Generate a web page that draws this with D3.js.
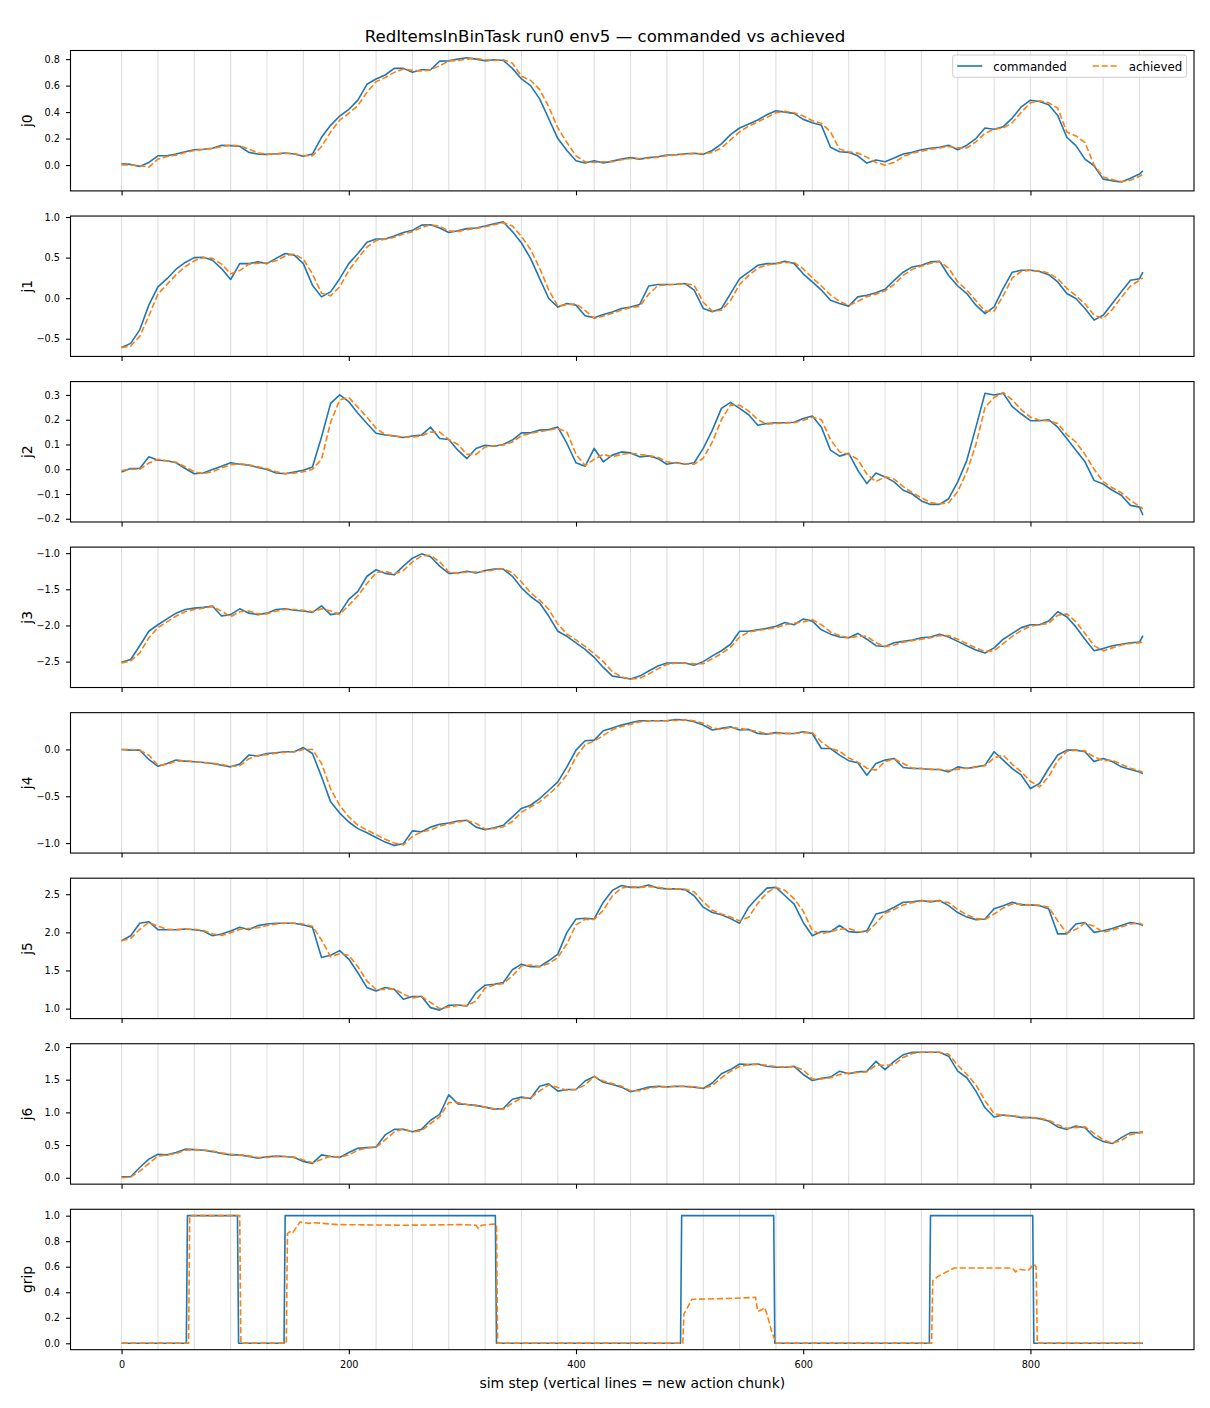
<!DOCTYPE html>
<html>
<head>
<meta charset="utf-8">
<script src="https://cdn.jsdelivr.net/npm/d3@7"></script>
<style>
  body { margin: 0; background: #fff; }
  text { font-family: "DejaVu Sans", sans-serif; fill: #000; }
</style>
</head>
<body>
<div id="chart"></div>
<script>
// sample grid: every 8 sim steps, plus the last step
var steps = d3.range(0, 897, 8).concat([899]);
// new action chunk every 32 steps
var chunkStarts = d3.range(0, 900, 32);

var jointNames = ["j0", "j1", "j2", "j3", "j4", "j5", "j6"];
var xTicks = [0, 200, 400, 600, 800];

var j0Cmd = [0.01, 0.005, -0.01, 0.02, 0.07, 0.07, 0.083, 0.10,
  0.116, 0.12, 0.127, 0.15, 0.147, 0.142, 0.096, 0.083,
  0.081, 0.085, 0.091, 0.083, 0.066, 0.083, 0.21, 0.30,
  0.37, 0.42, 0.49, 0.61, 0.65, 0.68, 0.73, 0.73,
  0.70, 0.72, 0.72, 0.785, 0.787, 0.80, 0.81, 0.80,
  0.787, 0.795, 0.79, 0.73, 0.65, 0.60, 0.50, 0.35,
  0.20, 0.11, 0.033, 0.015, 0.033, 0.015, 0.03, 0.045,
  0.056, 0.045, 0.056, 0.063, 0.076, 0.078, 0.086, 0.089,
  0.081, 0.11, 0.16, 0.23, 0.28, 0.31, 0.34, 0.38,
  0.41, 0.40, 0.39, 0.345, 0.32, 0.30, 0.135, 0.10,
  0.096, 0.07, 0.015, 0.038, 0.025, 0.053, 0.083, 0.096,
  0.116, 0.127, 0.134, 0.15, 0.116, 0.15, 0.20, 0.28,
  0.27, 0.29, 0.355, 0.44, 0.49, 0.48, 0.455, 0.375,
  0.21, 0.147, 0.045, -0.005, -0.106, -0.119, -0.127, -0.10,
  -0.068, -0.043];
var j0Ach = [0.0, 0.0, -0.005, -0.015, 0.045, 0.065, 0.075, 0.095,
  0.11, 0.118, 0.125, 0.14, 0.15, 0.145, 0.12, 0.09,
  0.083, 0.083, 0.088, 0.087, 0.072, 0.07, 0.14, 0.25,
  0.34, 0.39, 0.45, 0.55, 0.63, 0.66, 0.70, 0.725,
  0.715, 0.71, 0.72, 0.75, 0.785, 0.79, 0.80, 0.805,
  0.795, 0.79, 0.795, 0.77, 0.67, 0.64, 0.57, 0.44,
  0.28, 0.17, 0.07, 0.025, 0.02, 0.025, 0.025, 0.04,
  0.05, 0.05, 0.052, 0.06, 0.07, 0.077, 0.082, 0.087,
  0.086, 0.095, 0.13, 0.19, 0.25, 0.295, 0.325, 0.36,
  0.395, 0.405, 0.395, 0.37, 0.335, 0.315, 0.25, 0.12,
  0.10, 0.09, 0.06, 0.02, 0.0, 0.02, 0.065, 0.09,
  0.105, 0.12, 0.13, 0.14, 0.13, 0.13, 0.175, 0.24,
  0.27, 0.28, 0.32, 0.40, 0.47, 0.485, 0.47, 0.43,
  0.25, 0.22, 0.17, 0.0, -0.09, -0.11, -0.125, -0.115,
  -0.085, -0.07];

var j1Cmd = [-0.607, -0.557, -0.39, -0.086, 0.14, 0.24, 0.357, 0.44,
  0.50, 0.504, 0.467, 0.365, 0.23, 0.426, 0.426, 0.447,
  0.426, 0.49, 0.55, 0.53, 0.426, 0.16, 0.016, 0.078,
  0.24, 0.426, 0.55, 0.69, 0.73, 0.73, 0.766, 0.81,
  0.836, 0.90, 0.905, 0.865, 0.81, 0.83, 0.857, 0.865,
  0.89, 0.918, 0.94, 0.82, 0.68, 0.49, 0.24, -0.004,
  -0.11, -0.066, -0.086, -0.217, -0.24, -0.20, -0.17, -0.127,
  -0.11, -0.078, 0.15, 0.168, 0.168, 0.172, 0.18, 0.098,
  -0.127, -0.168, -0.127, 0.057, 0.24, 0.32, 0.405, 0.426,
  0.426, 0.455, 0.426, 0.30, 0.20, 0.10, -0.025, -0.066,
  -0.098, 0.016, 0.037, 0.066, 0.11, 0.22, 0.32, 0.385,
  0.405, 0.447, 0.455, 0.28, 0.15, 0.057, -0.086, -0.19,
  -0.107, 0.12, 0.32, 0.344, 0.344, 0.33, 0.29, 0.20,
  0.057, -0.004, -0.127, -0.27, -0.21, -0.066, 0.078, 0.22,
  0.24, 0.32];
var j1Ach = [-0.61, -0.59, -0.47, -0.22, 0.05, 0.17, 0.29, 0.39,
  0.46, 0.50, 0.49, 0.42, 0.30, 0.34, 0.42, 0.43,
  0.435, 0.46, 0.52, 0.545, 0.48, 0.30, 0.06, 0.03,
  0.14, 0.34, 0.49, 0.63, 0.71, 0.725, 0.75, 0.79,
  0.82, 0.87, 0.905, 0.885, 0.83, 0.82, 0.845, 0.86,
  0.88, 0.905, 0.93, 0.89, 0.76, 0.60, 0.37, 0.10,
  -0.10, -0.08, -0.07, -0.15, -0.25, -0.22, -0.185, -0.145,
  -0.115, -0.10, 0.05, 0.155, 0.165, 0.17, 0.178, 0.16,
  -0.05, -0.16, -0.15, -0.03, 0.17, 0.28, 0.37, 0.41,
  0.425, 0.44, 0.44, 0.36, 0.25, 0.15, 0.04, -0.04,
  -0.09, -0.04, 0.02, 0.05, 0.09, 0.17, 0.28, 0.355,
  0.395, 0.43, 0.45, 0.37, 0.20, 0.10, -0.03, -0.16,
  -0.16, 0.03, 0.25, 0.33, 0.345, 0.335, 0.31, 0.24,
  0.12, 0.03, -0.07, -0.21, -0.25, -0.14, 0.01, 0.15,
  0.22, 0.25];

var j2Cmd = [-0.011, 0.003, 0.003, 0.05, 0.036, 0.034, 0.026, 0.003,
  -0.018, -0.015, -0.001, 0.012, 0.026, 0.02, 0.016, 0.007,
  -0.001, -0.015, -0.018, -0.011, -0.004, 0.009, 0.13, 0.266,
  0.30, 0.273, 0.226, 0.185, 0.145, 0.138, 0.134, 0.128,
  0.134, 0.138, 0.17, 0.124, 0.12, 0.077, 0.043, 0.084,
  0.097, 0.093, 0.10, 0.118, 0.147, 0.147, 0.158, 0.16,
  0.17, 0.104, 0.026, 0.012, 0.084, 0.03, 0.057, 0.07,
  0.066, 0.05, 0.054, 0.043, 0.02, 0.027, 0.02, 0.026,
  0.084, 0.158, 0.246, 0.27, 0.246, 0.22, 0.178, 0.185,
  0.188, 0.188, 0.19, 0.205, 0.215, 0.17, 0.077, 0.053,
  0.064, -0.004, -0.058, -0.015, -0.031, -0.051, -0.085, -0.10,
  -0.128, -0.142, -0.142, -0.119, -0.051, 0.036, 0.17, 0.307,
  0.30, 0.307, 0.253, 0.223, 0.196, 0.196, 0.20, 0.17,
  0.124, 0.077, 0.03, -0.045, -0.06, -0.085, -0.105, -0.146,
  -0.153, -0.186];
var j2Ach = [-0.005, 0.0, 0.0, 0.025, 0.04, 0.033, 0.028, 0.01,
  -0.01, -0.018, -0.01, 0.005, 0.018, 0.022, 0.018, 0.01,
  0.002, -0.01, -0.017, -0.016, -0.01, 0.0, 0.04, 0.19,
  0.28, 0.29, 0.25, 0.21, 0.165, 0.14, 0.135, 0.13,
  0.13, 0.135, 0.15, 0.15, 0.12, 0.10, 0.06, 0.06,
  0.09, 0.095, 0.098, 0.11, 0.135, 0.145, 0.152, 0.158,
  0.165, 0.15, 0.06, 0.015, 0.04, 0.06, 0.05, 0.06,
  0.065, 0.06, 0.055, 0.048, 0.03, 0.025, 0.022, 0.02,
  0.045, 0.11, 0.20, 0.26, 0.258, 0.235, 0.20, 0.182,
  0.185, 0.187, 0.188, 0.198, 0.21, 0.20, 0.12, 0.07,
  0.06, 0.04, -0.02, -0.05, -0.03, -0.04, -0.07, -0.095,
  -0.115, -0.135, -0.14, -0.135, -0.09, -0.01, 0.10, 0.25,
  0.29, 0.31, 0.28, 0.24, 0.21, 0.198, 0.195, 0.185,
  0.14, 0.11, 0.06, 0.0, -0.05, -0.075, -0.095, -0.125,
  -0.15, -0.16];

var j3Cmd = [-2.51, -2.47, -2.28, -2.08, -1.99, -1.91, -1.83, -1.78,
  -1.76, -1.75, -1.73, -1.87, -1.85, -1.77, -1.83, -1.85,
  -1.83, -1.78, -1.77, -1.79, -1.80, -1.82, -1.73, -1.85,
  -1.83, -1.64, -1.53, -1.32, -1.23, -1.28, -1.30, -1.18,
  -1.07, -1.01, -1.05, -1.18, -1.28, -1.275, -1.25, -1.275,
  -1.24, -1.22, -1.22, -1.32, -1.48, -1.60, -1.69, -1.87,
  -2.08, -2.15, -2.24, -2.33, -2.44, -2.58, -2.70, -2.72,
  -2.74, -2.70, -2.63, -2.56, -2.52, -2.52, -2.52, -2.55,
  -2.50, -2.42, -2.35, -2.26, -2.08, -2.08, -2.06, -2.04,
  -2.01, -1.96, -1.99, -1.91, -1.94, -2.06, -2.12, -2.16,
  -2.17, -2.11, -2.19, -2.28, -2.29, -2.24, -2.22, -2.20,
  -2.17, -2.16, -2.12, -2.16, -2.22, -2.28, -2.34, -2.38,
  -2.31, -2.19, -2.11, -2.03, -1.99, -1.99, -1.94, -1.81,
  -1.88, -2.02, -2.19, -2.35, -2.32, -2.28, -2.26, -2.24,
  -2.23, -2.14];
var j3Ach = [-2.52, -2.49, -2.38, -2.17, -2.03, -1.95, -1.87, -1.81,
  -1.78, -1.76, -1.74, -1.80, -1.88, -1.81, -1.80, -1.84,
  -1.84, -1.80, -1.78, -1.78, -1.79, -1.81, -1.77, -1.80,
  -1.85, -1.72, -1.59, -1.42, -1.27, -1.25, -1.29, -1.24,
  -1.12, -1.04, -1.03, -1.12, -1.26, -1.28, -1.26, -1.26,
  -1.255, -1.23, -1.22, -1.27, -1.40, -1.55, -1.65, -1.78,
  -1.98, -2.12, -2.20, -2.29, -2.39, -2.50, -2.64, -2.71,
  -2.74, -2.73, -2.67, -2.60, -2.54, -2.52, -2.52, -2.53,
  -2.53, -2.46, -2.39, -2.30, -2.16, -2.09, -2.07, -2.05,
  -2.03, -1.99, -1.97, -1.95, -1.92, -1.99, -2.09, -2.14,
  -2.17, -2.15, -2.15, -2.24, -2.29, -2.27, -2.23, -2.21,
  -2.19, -2.17, -2.14, -2.14, -2.19, -2.25, -2.31, -2.36,
  -2.35, -2.25, -2.15, -2.07, -2.01, -1.99, -1.97, -1.86,
  -1.84, -1.95, -2.11, -2.28, -2.35, -2.31, -2.27, -2.25,
  -2.24, -2.23];

var j4Cmd = [0.0, -0.007, -0.007, -0.107, -0.18, -0.15, -0.114, -0.125,
  -0.132, -0.14, -0.15, -0.168, -0.186, -0.157, -0.06, -0.07,
  -0.043, -0.036, -0.025, -0.025, 0.02, -0.043, -0.29, -0.56,
  -0.68, -0.775, -0.846, -0.89, -0.94, -0.99, -1.025, -1.007,
  -0.87, -0.88, -0.83, -0.80, -0.786, -0.764, -0.757, -0.83,
  -0.857, -0.836, -0.81, -0.72, -0.63, -0.596, -0.525, -0.436,
  -0.346, -0.186, -0.007, 0.093, 0.10, 0.20, 0.23, 0.26,
  0.286, 0.307, 0.307, 0.307, 0.307, 0.32, 0.314, 0.296,
  0.26, 0.207, 0.225, 0.243, 0.207, 0.214, 0.17, 0.164,
  0.18, 0.17, 0.17, 0.19, 0.17, 0.01, 0.01, -0.06,
  -0.12, -0.143, -0.275, -0.15, -0.114, -0.096, -0.193, -0.204,
  -0.204, -0.214, -0.214, -0.24, -0.186, -0.204, -0.186, -0.168,
  -0.025, -0.114, -0.204, -0.275, -0.418, -0.364, -0.204, -0.06,
  -0.007, -0.007, -0.025, -0.13, -0.096, -0.13, -0.186, -0.214,
  -0.24, -0.257];
var j4Ach = [0.0, 0.0, -0.01, -0.06, -0.17, -0.16, -0.125, -0.12,
  -0.13, -0.138, -0.148, -0.16, -0.18, -0.175, -0.10, -0.065,
  -0.055, -0.04, -0.03, -0.025, 0.0, 0.0, -0.15, -0.42,
  -0.60, -0.72, -0.81, -0.86, -0.91, -0.96, -1.0, -1.02,
  -0.93, -0.88, -0.86, -0.82, -0.795, -0.775, -0.76, -0.79,
  -0.85, -0.845, -0.825, -0.77, -0.67, -0.615, -0.56, -0.48,
  -0.39, -0.27, -0.08, 0.05, 0.09, 0.15, 0.21, 0.245,
  0.27, 0.295, 0.305, 0.307, 0.307, 0.31, 0.315, 0.305,
  0.28, 0.23, 0.215, 0.235, 0.225, 0.21, 0.19, 0.168,
  0.172, 0.172, 0.17, 0.18, 0.18, 0.08, 0.01, -0.02,
  -0.09, -0.135, -0.20, -0.22, -0.13, -0.10, -0.15, -0.20,
  -0.205, -0.21, -0.214, -0.225, -0.21, -0.20, -0.19, -0.175,
  -0.09, -0.06, -0.16, -0.24, -0.34, -0.40, -0.29, -0.12,
  -0.02, -0.007, -0.015, -0.08, -0.12, -0.115, -0.16, -0.20,
  -0.23, -0.245];

var j5Cmd = [1.89, 1.956, 2.12, 2.14, 2.035, 2.035, 2.035, 2.044,
  2.035, 2.018, 1.956, 1.978, 2.018, 2.066, 2.035, 2.088,
  2.11, 2.12, 2.12, 2.12, 2.096, 2.066, 1.67, 1.70,
  1.76, 1.65, 1.47, 1.276, 1.23, 1.276, 1.254, 1.123,
  1.158, 1.158, 1.013, 0.98, 1.044, 1.048, 1.035, 1.21,
  1.307, 1.32, 1.342, 1.51, 1.583, 1.55, 1.55, 1.627,
  1.715, 2.0, 2.175, 2.184, 2.175, 2.395, 2.55, 2.614,
  2.59, 2.59, 2.62, 2.58, 2.57, 2.57, 2.56, 2.48,
  2.33, 2.26, 2.23, 2.18, 2.12, 2.33, 2.46, 2.58,
  2.59, 2.48, 2.37, 2.13, 1.956, 2.01, 2.01, 2.09,
  2.01, 2.0, 2.02, 2.24, 2.27, 2.33, 2.395, 2.40,
  2.417, 2.40, 2.417, 2.35, 2.26, 2.20, 2.167, 2.175,
  2.31, 2.35, 2.395, 2.36, 2.36, 2.35, 2.31, 1.98,
  1.98, 2.11, 2.13, 2.0, 2.02, 2.05, 2.09, 2.13,
  2.11, 2.09];
var j5Ach = [1.89, 1.92, 2.04, 2.13, 2.08, 2.04, 2.035, 2.04,
  2.04, 2.025, 1.98, 1.96, 1.995, 2.04, 2.05, 2.06,
  2.09, 2.11, 2.12, 2.12, 2.11, 2.08, 1.90, 1.68,
  1.72, 1.70, 1.55, 1.36, 1.25, 1.25, 1.26, 1.19,
  1.14, 1.16, 1.08, 1.0, 1.02, 1.04, 1.04, 1.10,
  1.27, 1.31, 1.33, 1.43, 1.56, 1.57, 1.55, 1.59,
  1.67, 1.85, 2.10, 2.17, 2.17, 2.29, 2.48, 2.58,
  2.60, 2.59, 2.60, 2.59, 2.57, 2.57, 2.565, 2.53,
  2.40, 2.29, 2.24, 2.20, 2.15, 2.20, 2.38, 2.52,
  2.59, 2.55, 2.44, 2.28, 2.02, 1.98, 2.01, 2.04,
  2.05, 2.01, 2.0, 2.12, 2.25, 2.30, 2.36, 2.39,
  2.41, 2.41, 2.41, 2.39, 2.30, 2.23, 2.18, 2.17,
  2.24, 2.32, 2.37, 2.37, 2.36, 2.355, 2.33, 2.15,
  1.99, 2.04, 2.12, 2.08, 2.00, 2.03, 2.07, 2.11,
  2.12, 2.10];

var j6Cmd = [0.015, 0.015, 0.157, 0.284, 0.36, 0.35, 0.386, 0.437,
  0.43, 0.42, 0.40, 0.37, 0.35, 0.35, 0.325, 0.30,
  0.32, 0.33, 0.325, 0.31, 0.25, 0.22, 0.35, 0.325,
  0.31, 0.386, 0.45, 0.46, 0.47, 0.655, 0.74, 0.74,
  0.705, 0.74, 0.88, 0.97, 1.27, 1.13, 1.12, 1.107,
  1.08, 1.05, 1.06, 1.20, 1.233, 1.213, 1.40, 1.437,
  1.325, 1.35, 1.35, 1.48, 1.55, 1.46, 1.426, 1.386,
  1.315, 1.35, 1.386, 1.40, 1.39, 1.40, 1.396, 1.386,
  1.365, 1.45, 1.59, 1.655, 1.74, 1.73, 1.74, 1.705,
  1.69, 1.69, 1.705, 1.58, 1.487, 1.52, 1.54, 1.63,
  1.59, 1.62, 1.63, 1.78, 1.655, 1.78, 1.88, 1.92,
  1.92, 1.92, 1.92, 1.86, 1.63, 1.53, 1.325, 1.07,
  0.93, 0.96, 0.944, 0.92, 0.92, 0.904, 0.868, 0.777,
  0.74, 0.79, 0.766, 0.624, 0.553, 0.523, 0.614, 0.69,
  0.69, 0.70];
var j6Ach = [0.0, 0.01, 0.10, 0.22, 0.33, 0.35, 0.37, 0.42,
  0.43, 0.425, 0.41, 0.38, 0.36, 0.35, 0.335, 0.31,
  0.31, 0.325, 0.325, 0.315, 0.27, 0.23, 0.28, 0.33,
  0.315, 0.35, 0.42, 0.455, 0.465, 0.58, 0.70, 0.75,
  0.70, 0.72, 0.83, 0.93, 1.15, 1.15, 1.12, 1.10,
  1.08, 1.055, 1.05, 1.14, 1.22, 1.22, 1.33, 1.42,
  1.38, 1.34, 1.35, 1.42, 1.55, 1.48, 1.44, 1.40,
  1.33, 1.33, 1.37, 1.39, 1.39, 1.40, 1.40, 1.39,
  1.37, 1.41, 1.53, 1.63, 1.70, 1.73, 1.735, 1.72,
  1.70, 1.69, 1.70, 1.65, 1.51, 1.51, 1.53, 1.58,
  1.60, 1.61, 1.62, 1.72, 1.72, 1.73, 1.84, 1.90,
  1.92, 1.92, 1.92, 1.89, 1.72, 1.58, 1.42, 1.18,
  0.98, 0.95, 0.95, 0.93, 0.92, 0.91, 0.88, 0.81,
  0.755, 0.77, 0.78, 0.68, 0.58, 0.53, 0.57, 0.66,
  0.69, 0.69];

// gripper: [step, value] breakpoints
var gripCmd = [[0, 0], [57, 0], [58, 1], [102, 1], [103, 0], [143, 0], [144, 1],
  [329, 1], [330, 0], [492, 0], [493, 1], [574, 1], [575, 0], [711, 0], [712, 1],
  [802, 1], [803, 0], [899, 0]];
var gripAch = [[0, 0], [59, 0], [60, 1], [104, 1], [105, 0], [145, 0], [146, 0.86],
  [149, 0.88], [151, 0.87], [157, 0.95], [165, 0.94], [170, 0.945], [190, 0.93],
  [250, 0.925], [300, 0.93], [312, 0.925], [314, 0.90], [317, 0.925], [328, 0.935],
  [330, 0.93], [331, 0], [494, 0], [495, 0.23], [497, 0.26], [502, 0.345],
  [530, 0.35], [558, 0.36], [560, 0.25], [563, 0.26], [566, 0.28], [568, 0.23],
  [572, 0.1], [576, 0], [713, 0], [714, 0.49], [718, 0.52], [724, 0.55],
  [733, 0.59], [784, 0.59], [787, 0.56], [790, 0.58], [798, 0.57], [803, 0.62],
  [805, 0.6], [806, 0], [899, 0]];

var yDomains = [[-0.195, 0.865], [-0.718, 1.012], [-0.213, 0.354], [-2.858, -0.917],
  [-1.107, 0.393], [0.869, 2.71], [-0.098, 2.05], [-0.05, 1.05]];
var yTicks = [[0, 0.2, 0.4, 0.6, 0.8], [-0.5, 0, 0.5, 1.0], [-0.2, -0.1, 0, 0.1, 0.2, 0.3],
  [-2.5, -2.0, -1.5, -1.0], [-1.0, -0.5, 0.0], [1.0, 1.5, 2.0, 2.5],
  [0, 0.5, 1.0, 1.5, 2.0], [0, 0.2, 0.4, 0.6, 0.8, 1.0]];

var cmdColor = "#1f77b4", achColor = "#ff7f0e";

function toPairs(vals) {
  return vals.map(function(v, k) { return [steps[k], v]; });
}

var panels = [
  {name: "j0", cmd: toPairs(j0Cmd), ach: toPairs(j0Ach)},
  {name: "j1", cmd: toPairs(j1Cmd), ach: toPairs(j1Ach)},
  {name: "j2", cmd: toPairs(j2Cmd), ach: toPairs(j2Ach)},
  {name: "j3", cmd: toPairs(j3Cmd), ach: toPairs(j3Ach)},
  {name: "j4", cmd: toPairs(j4Cmd), ach: toPairs(j4Ach)},
  {name: "j5", cmd: toPairs(j5Cmd), ach: toPairs(j5Ach)},
  {name: "j6", cmd: toPairs(j6Cmd), ach: toPairs(j6Ach)},
  {name: "grip", cmd: gripCmd, ach: gripAch}
];

var width = 1210, height = 1408;
var axLeft = 70.5, axRight = 1194;
var top0 = 50.5, rowStep = 165.54, panelH = 140.4;

var svg = d3.select("#chart").append("svg")
    .attr("width", width)
    .attr("height", height);

svg.append("rect").attr("width", width).attr("height", height).attr("fill", "#fff");

var x = d3.scaleLinear().domain([-44.95, 943.95]).range([axLeft, axRight]);
var fmt = d3.format(".1f");

panels.forEach(function(p, i) {
  var g = svg.append("g").attr("transform", "translate(0," + (top0 + i * rowStep) + ")");
  var y = d3.scaleLinear().domain(yDomains[i]).range([panelH, 0]);

  // action chunk markers
  g.selectAll(".chunk")
      .data(chunkStarts)
      .enter()
      .append("line")
      .attr("class", "chunk")
      .attr("x1", function(d) { return x(d); })
      .attr("x2", function(d) { return x(d); })
      .attr("y1", 0)
      .attr("y2", panelH)
      .attr("stroke", "#808080")
      .attr("stroke-opacity", 0.28)
      .attr("stroke-width", 1);

  var line = d3.line()
      .x(function(d) { return x(d[0]); })
      .y(function(d) { return y(d[1]); });

  g.append("path")
      .datum(p.cmd)
      .attr("d", line)
      .attr("fill", "none")
      .attr("stroke", cmdColor)
      .attr("stroke-width", 1.6)
      .attr("stroke-linejoin", "round");

  g.append("path")
      .datum(p.ach)
      .attr("d", line)
      .attr("fill", "none")
      .attr("stroke", achColor)
      .attr("stroke-width", 1.6)
      .attr("stroke-dasharray", "6.2,2.7");

  var yAxis = g.append("g")
      .attr("transform", "translate(" + axLeft + ",0)")
      .call(d3.axisLeft(y).tickValues(yTicks[i]).tickFormat(fmt).tickSize(4.5).tickPadding(6));

  var last = i === panels.length - 1;
  var xAxis = g.append("g")
      .attr("transform", "translate(0," + panelH + ")")
      .call(d3.axisBottom(x).tickValues(xTicks).tickSize(4.5).tickPadding(7)
        .tickFormat(last ? d3.format("d") : function() { return ""; }));

  [yAxis, xAxis].forEach(function(a) {
    a.select(".domain").remove();
    a.selectAll(".tick line").attr("stroke", "#000").attr("stroke-width", 1.1);
    a.selectAll(".tick text").attr("font-size", 9.7).attr("font-family", "DejaVu Sans").attr("fill", "#000");
  });

  g.append("rect")
      .attr("x", axLeft)
      .attr("y", 0)
      .attr("width", axRight - axLeft)
      .attr("height", panelH)
      .attr("fill", "none")
      .attr("stroke", "#000")
      .attr("stroke-width", 1.1);

  g.append("text")
      .attr("transform", "translate(31.5," + (panelH / 2) + ") rotate(-90)")
      .attr("text-anchor", "middle")
      .attr("font-size", 13.9)
      .text(p.name);
});

svg.append("text")
    .attr("x", 605)
    .attr("y", 41.7)
    .attr("text-anchor", "middle")
    .attr("font-size", 16.6)
    .text("RedItemsInBinTask run0 env5 \u2014 commanded vs achieved");

svg.append("text")
    .attr("x", (axLeft + axRight) / 2)
    .attr("y", 1387.5)
    .attr("text-anchor", "middle")
    .attr("font-size", 13.9)
    .text("sim step (vertical lines = new action chunk)");

// legend, two columns
var leg = svg.append("g").attr("transform", "translate(952.7,55)");
leg.append("rect")
    .attr("width", 234)
    .attr("height", 22.3)
    .attr("rx", 2.5)
    .attr("fill", "#fff")
    .attr("fill-opacity", 0.8)
    .attr("stroke", "#cccccc")
    .attr("stroke-width", 1);

var legItems = [
  {label: "commanded", color: cmdColor, dash: null, x0: 4.5},
  {label: "achieved", color: achColor, dash: "6.2,2.7", x0: 140}
];
legItems.forEach(function(it) {
  leg.append("line")
      .attr("x1", it.x0).attr("x2", it.x0 + 25)
      .attr("y1", 11).attr("y2", 11)
      .attr("stroke", it.color)
      .attr("stroke-width", 1.6)
      .attr("stroke-dasharray", it.dash);
  leg.append("text")
      .attr("x", it.x0 + 36)
      .attr("y", 15.5)
      .attr("font-size", 11.8)
      .text(it.label);
});
</script>
</body>
</html>
